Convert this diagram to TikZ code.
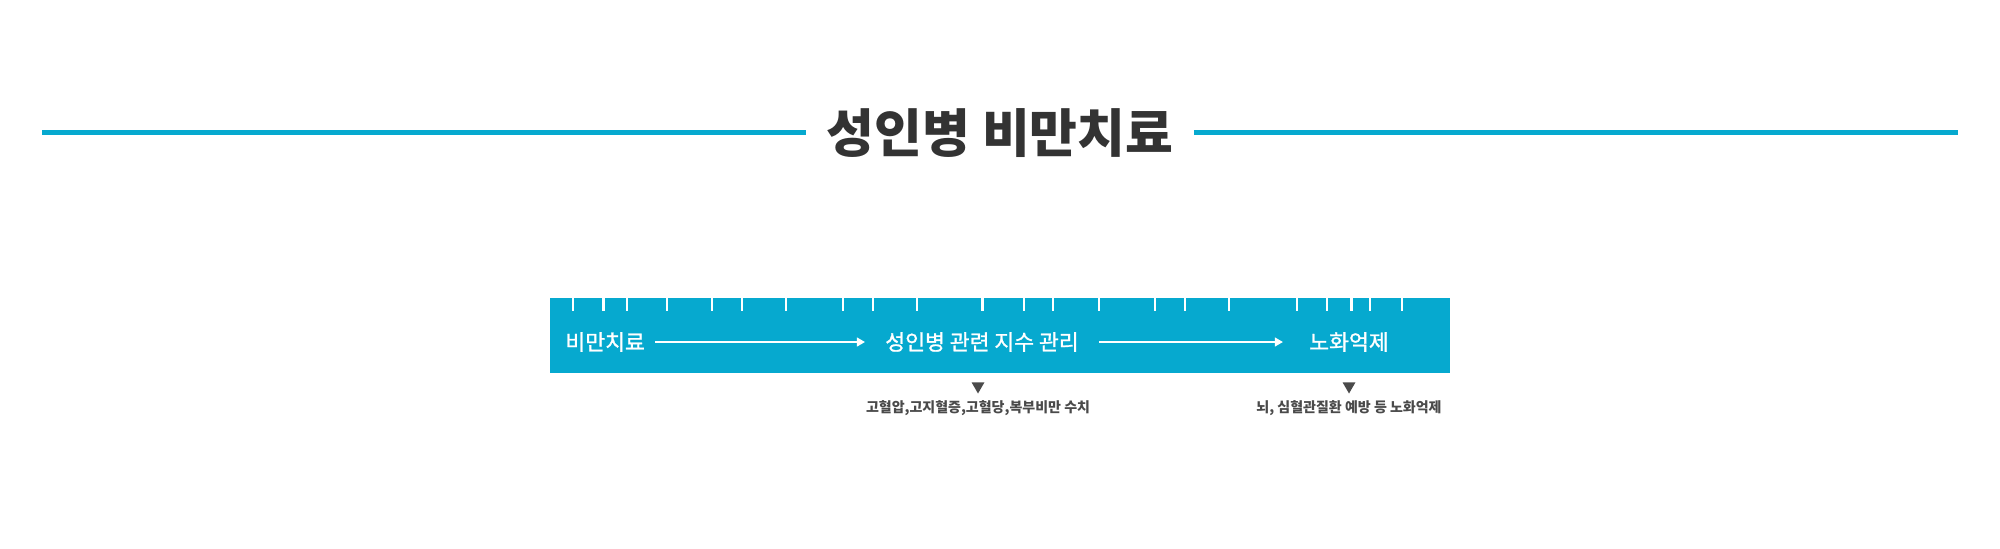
\documentclass[tikz,border=0pt]{standalone}
\usepackage{fontspec}
\newfontfamily\krfont{Noto Sans CJK KR}
\newfontfamily\krmedium[FakeBold=1.2]{Noto Sans CJK KR}
\usetikzlibrary{shapes.geometric, positioning, arrows.meta}
\definecolor{barblue}{HTML}{06A9CF}
\definecolor{titlegray}{HTML}{333333}
\definecolor{notegray}{HTML}{4A4A4A}

\begin{document}
\begin{tikzpicture}[x=0.5pt, y=-0.5pt,
    tick/.style={white, line width=0.65pt},
    bigtick/.style={white, line width=1.5pt},
    steplabel/.style={text=white, font=\krmedium\fontsize{10.8}{12}\selectfont, inner xsep=5pt},
    note/.style={text=notegray, font=\krfont\bfseries\fontsize{7}{9}\selectfont, inner sep=0pt},
    marker/.style={regular polygon, regular polygon sides=3, shape border rotate=180, fill=notegray, inner sep=0pt, minimum size=7.5pt}]
    \useasboundingbox[fill=white] (0,0) rectangle (2000,548);

    % Title with side rules
    \node[text=titlegray, font=\krfont\bfseries\fontsize{26}{30}\selectfont, inner xsep=10pt] (title) at (1000,133) {성인병 비만치료};
    \coordinate (ruleL) at (42,132);
    \coordinate (ruleR) at (1958,132);
    \draw[barblue, line width=2.5pt] (ruleL) -- (ruleL -| title.west);
    \draw[barblue, line width=2.5pt] (title.east |- ruleR) -- (ruleR);

    % Bar
    \fill[barblue] (550,298) rectangle (1450,373);
    \foreach \x in {573, 627, 667, 712, 742, 786, 843, 873, 917, 1024, 1053, 1099, 1155, 1185, 1229, 1297, 1327, 1370, 1402}
        \draw[tick] (\x,298) -- (\x,311);
    \foreach \x in {603, 982, 1351}
        \draw[bigtick] (\x,298) -- (\x,311);

    % Steps
    \node[steplabel, anchor=west] (s1) at (555,342) {비만치료};
    \node[steplabel] (s2) at (982,342) {성인병 관련 지수 관리};
    \node[steplabel] (s3) at (1349,342) {노화억제};
    \draw[white, line width=0.6pt, -{Triangle[length=4pt, width=4.5pt]}, shorten >=5pt] (s1) -- (s2);
    \draw[white, line width=0.6pt, -{Triangle[length=4pt, width=4.5pt]}, shorten <=5pt, shorten >=8pt] (s2) -- (s3);

    % Notes
    \node[marker] (m1) at (978,386) {};
    \node[marker] (m2) at (1349,386) {};
    \node[note, below=3pt of m1] (n1) {고혈압,고지혈증,고혈당,복부비만 수치};
    \node[note, below=3pt of m2] (n2) {뇌, 심혈관질환 예방 등 노화억제};
\end{tikzpicture}
\end{document}
